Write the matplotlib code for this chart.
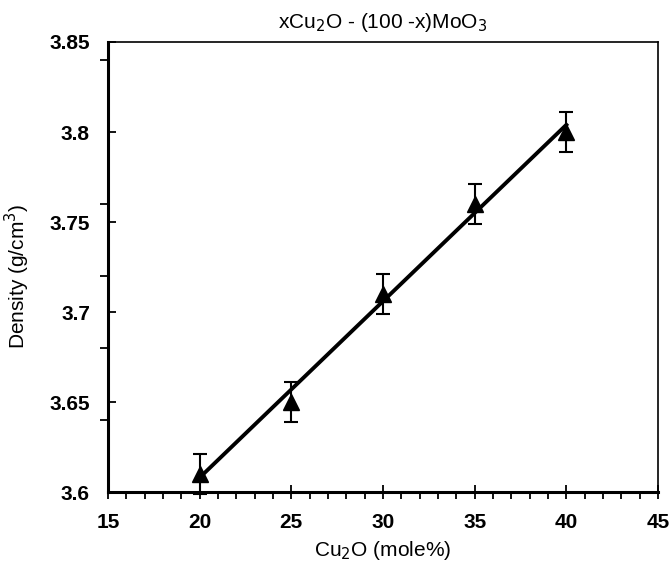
import numpy as np
import matplotlib.pyplot as plt
from matplotlib.ticker import MultipleLocator, FixedLocator

plt.rcParams['font.family'] = ['Liberation Sans', 'DejaVu Sans']

# Cu2O content (mole%) and measured density (g/cm3)
cu2o = [20, 25, 30, 35, 40]
density = [3.61, 3.65, 3.71, 3.76, 3.80]
density_err = [0.011, 0.011, 0.011, 0.011, 0.011]

fig = plt.figure(figsize=(6.69, 5.66), dpi=100)
ax = fig.add_axes([0.1614, 0.1307, 0.8222, 0.7951])

# least squares line through the points
slope, intercept = np.polyfit(cu2o, density, 1)
xfit = np.array([cu2o[0], cu2o[-1]])
ax.plot(xfit, slope * xfit + intercept, color='black', lw=2.8, zorder=2)

ax.errorbar(cu2o, density, yerr=density_err, fmt='^', color='black',
            ms=11.5, elinewidth=1.5, capsize=5, capthick=1.5, zorder=3,
            clip_on=False)

ax.set_xlim(15, 45)
ax.set_ylim(3.6, 3.85)

ax.xaxis.set_major_locator(MultipleLocator(5))
ax.xaxis.set_minor_locator(MultipleLocator(1))
ax.set_yticks([3.6, 3.65, 3.7, 3.75, 3.8, 3.85])
ax.set_yticklabels(['3.6', '3.65', '3.7', '3.75', '3.8', '3.85'])
ax.yaxis.set_minor_locator(FixedLocator([3.60, 3.64, 3.68, 3.72, 3.76, 3.80, 3.84]))

ax.tick_params(axis='x', which='major', direction='inout', length=10, width=1.3,
               pad=10, labelsize=15)
ax.tick_params(axis='x', which='minor', direction='out', length=5, width=1.3)
ax.tick_params(axis='y', which='major', direction='in', length=6, width=1.3,
               pad=13, labelsize=15)
ax.tick_params(axis='y', which='minor', direction='out', length=6, width=1.3)

for lab in ax.get_xticklabels() + ax.get_yticklabels():
    lab.set_fontweight('bold')

for side in ['left', 'bottom']:
    ax.spines[side].set_linewidth(2.2)
for side in ['top', 'right']:
    ax.spines[side].set_linewidth(1.2)

ax.set_title(r'xCu$_2$O - (100 -x)MoO$_3$', fontsize=15, pad=10)
ax.set_xlabel(r'Cu$_2$O (mole%)', fontsize=15, labelpad=5)
ax.set_ylabel(r'Density (g/cm$^3$)', fontsize=15)
ax.yaxis.set_label_coords(-0.138, 0.48)

fig.savefig('out.png', dpi=100)
